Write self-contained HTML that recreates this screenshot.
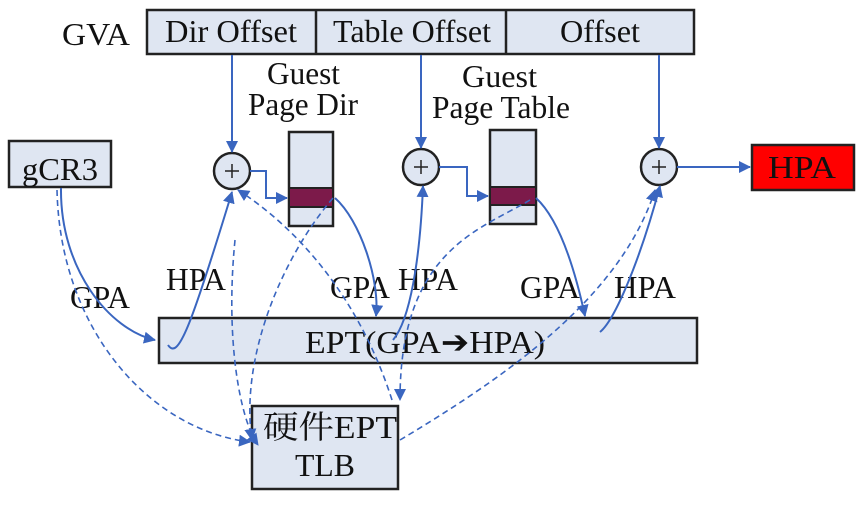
<!DOCTYPE html>
<html><head><meta charset="utf-8"><style>
body{margin:0;background:#fff}
svg{display:block}
text{font-family:"Liberation Serif","Noto Serif CJK SC",serif;fill:#111}
</style></head><body>
<svg width="864" height="506" viewBox="0 0 864 506" xmlns="http://www.w3.org/2000/svg">
<defs>
<marker id="a" markerWidth="12" markerHeight="12" refX="11" refY="6" orient="auto" markerUnits="userSpaceOnUse"><path d="M0,0 L12,6 L0,12 z" fill="#3a66c0"/></marker>
</defs>
<g stroke="#222" stroke-width="2.5" fill="#dfe6f2">
<rect x="147" y="10" width="547" height="44"/>
<line x1="316" y1="10" x2="316" y2="54"/>
<line x1="506" y1="10" x2="506" y2="54"/>
<rect x="9" y="141" width="102" height="46"/>
<rect x="289" y="132" width="44" height="94"/>
<rect x="490" y="130" width="46" height="94"/>
<rect x="159" y="318" width="538" height="45"/>
<rect x="252" y="406" width="146" height="83"/>
<circle cx="232" cy="171" r="18"/>
<circle cx="421" cy="167" r="18"/>
<circle cx="659" cy="167" r="18"/>
</g>
<rect x="289" y="188" width="44" height="19" fill="#7c1a4a" stroke="#222" stroke-width="2"/>
<rect x="490" y="187" width="46" height="18" fill="#7c1a4a" stroke="#222" stroke-width="2"/>
<rect x="752" y="145" width="102" height="45" fill="#f00" stroke="#222" stroke-width="2.5"/>
<g stroke="#222" stroke-width="1.5">
<line x1="225" y1="171" x2="239" y2="171"/><line x1="232" y1="164" x2="232" y2="178"/>
<line x1="414" y1="167" x2="428" y2="167"/><line x1="421" y1="160" x2="421" y2="174"/>
<line x1="652" y1="167" x2="666" y2="167"/><line x1="659" y1="160" x2="659" y2="174"/>
</g>
<g font-size="32">
<text x="62" y="45" textLength="68" lengthAdjust="spacingAndGlyphs">GVA</text>
<text x="165" y="42" textLength="132" lengthAdjust="spacingAndGlyphs">Dir Offset</text>
<text x="333" y="42" textLength="158" lengthAdjust="spacingAndGlyphs">Table Offset</text>
<text x="560" y="42" textLength="80" lengthAdjust="spacingAndGlyphs">Offset</text>
<text x="22" y="180" textLength="76" lengthAdjust="spacingAndGlyphs">gCR3</text>
<text x="267" y="84" textLength="73" lengthAdjust="spacingAndGlyphs">Guest</text>
<text x="248" y="115" textLength="110" lengthAdjust="spacingAndGlyphs">Page Dir</text>
<text x="462" y="87" textLength="75" lengthAdjust="spacingAndGlyphs">Guest</text>
<text x="432" y="118" textLength="138" lengthAdjust="spacingAndGlyphs">Page Table</text>
<text x="768" y="178" textLength="68" lengthAdjust="spacingAndGlyphs" fill="#000">HPA</text>
<text x="70" y="308" textLength="60" lengthAdjust="spacingAndGlyphs">GPA</text>
<text x="166" y="290" textLength="60" lengthAdjust="spacingAndGlyphs">HPA</text>
<text x="330" y="298" textLength="60" lengthAdjust="spacingAndGlyphs">GPA</text>
<text x="398" y="290" textLength="60" lengthAdjust="spacingAndGlyphs">HPA</text>
<text x="520" y="298" textLength="60" lengthAdjust="spacingAndGlyphs">GPA</text>
<text x="614" y="298" textLength="62" lengthAdjust="spacingAndGlyphs">HPA</text>
<text x="305" y="353" textLength="240" lengthAdjust="spacingAndGlyphs">EPT(GPA➔HPA)</text>
<text x="263" y="438" textLength="134" lengthAdjust="spacingAndGlyphs">硬件EPT</text>
<text x="295" y="476" textLength="60" lengthAdjust="spacingAndGlyphs">TLB</text>
</g>
<g stroke="#3a66c0" stroke-width="2" fill="none" marker-end="url(#a)">
<path d="M232,55 V152"/>
<path d="M421,55 V148"/>
<path d="M659,55 V148"/>
<path d="M677,167 H750"/>
<path d="M250,171 H266 V198 H287"/>
<path d="M439,167 H467 V196 H488"/>
<path d="M61,188 C60,270 110,330 155,340"/>
<path d="M168,345 C178,360 190,330 232,192"/>
<path d="M335,198 C360,220 380,280 376,316"/>
<path d="M393,340 C410,320 420,260 423,186"/>
<path d="M536,198 C560,220 575,270 585,316"/>
<path d="M600,332 C615,320 640,260 660,186"/>
</g>
<g stroke="#3a66c0" stroke-width="1.6" fill="none" stroke-dasharray="6,4" marker-end="url(#a)">
<path d="M57,190 C60,330 150,430 250,442"/>
<path d="M392,400 C360,300 300,230 238,190"/>
<path d="M333,198 C280,260 240,360 252,440"/>
<path d="M530,200 C480,230 400,250 400,400"/>
<path d="M400,440 C500,380 620,300 655,190"/>
<path d="M235,240 C225,340 240,420 258,445"/>
</g>
</svg>
</body></html>
